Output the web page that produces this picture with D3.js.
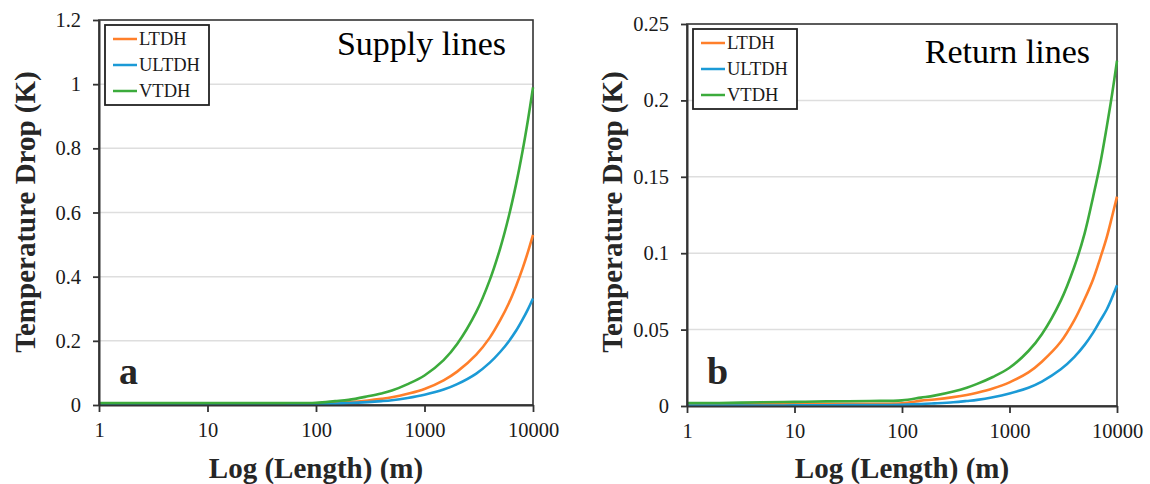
<!DOCTYPE html>
<html>
<head>
<meta charset="utf-8">
<script src="https://cdn.jsdelivr.net/npm/d3@7"></script>
<style>
  body { margin: 0; background: #fff; }
  text { font-family: "Liberation Serif", "Times New Roman", serif; }
</style>
</head>
<body>
<div id="chart"></div>
<script>
const lengths = [1, 2, 5, 10, 20, 50, 100, 150, 200, 300, 400, 500, 700, 1000, 1500, 2000, 3000, 4000, 5000, 6000, 7000, 8000, 9000, 10000];

const seriesNames = ["LTDH", "ULTDH", "VTDH"];

// supply lines (K)
const supplyLTDH = [0.003, 0.003, 0.003, 0.003, 0.003, 0.003, 0.004, 0.007, 0.009, 0.014, 0.019, 0.024, 0.035, 0.05, 0.077, 0.104, 0.157, 0.21, 0.265, 0.318, 0.372, 0.425, 0.478, 0.53];
const supplyULTDH = [0.001, 0.001, 0.001, 0.001, 0.001, 0.001, 0.002, 0.004, 0.006, 0.009, 0.012, 0.015, 0.022, 0.032, 0.048, 0.065, 0.098, 0.132, 0.166, 0.199, 0.232, 0.266, 0.299, 0.332];
const supplyVTDH = [0.006, 0.006, 0.006, 0.006, 0.006, 0.006, 0.007, 0.012, 0.016, 0.027, 0.036, 0.045, 0.065, 0.092, 0.14, 0.19, 0.29, 0.39, 0.49, 0.59, 0.69, 0.79, 0.89, 0.99];

// return lines (K)
const returnLTDH = [0.001, 0.001, 0.0011, 0.0012, 0.0013, 0.0015, 0.0018, 0.0035, 0.0043, 0.0058, 0.0072, 0.0087, 0.0115, 0.0155, 0.022, 0.029, 0.042, 0.056, 0.07, 0.083, 0.097, 0.11, 0.124, 0.137];
const returnULTDH = [0.0003, 0.0003, 0.0003, 0.0004, 0.0005, 0.0006, 0.0008, 0.0012, 0.0017, 0.0025, 0.0033, 0.004, 0.0057, 0.0082, 0.012, 0.016, 0.024, 0.032, 0.04, 0.048, 0.056, 0.063, 0.071, 0.079];
const returnVTDH = [0.002, 0.002, 0.0025, 0.0027, 0.003, 0.0033, 0.0037, 0.0055, 0.0068, 0.0095, 0.012, 0.0145, 0.019, 0.025, 0.036, 0.047, 0.069, 0.091, 0.113, 0.137, 0.159, 0.182, 0.204, 0.226];

const xTicks = [1, 10, 100, 1000, 10000];
const supplyYTicks = [0, 0.2, 0.4, 0.6, 0.8, 1, 1.2];
const returnYTicks = [0, 0.05, 0.1, 0.15, 0.2, 0.25];

const colors = ["#ff7f2a", "#1b9ad6", "#3cab3c"];
const serif = '"Liberation Serif", "Times New Roman", serif';

const svg = d3.select("#chart").append("svg")
  .attr("width", 1150).attr("height", 484);
svg.append("rect").attr("width", 1150).attr("height", 484).attr("fill", "#fff");

function drawPanel(opts) {
  const x = d3.scaleLog().domain([1, 10000]).range([opts.left, opts.right]);
  const y = d3.scaleLinear().domain([0, opts.yMax]).range([opts.bottom, opts.top]);
  const g = svg.append("g");

  // gridlines
  g.selectAll(".grid").data(opts.yTicks.filter(d => d > 0 && d < opts.yMax))
    .enter().append("line")
    .attr("x1", opts.left).attr("x2", opts.right)
    .attr("y1", d => y(d)).attr("y2", d => y(d))
    .attr("stroke", "#dedede").attr("stroke-width", 1.5);

  // frame
  g.append("rect")
    .attr("x", opts.left).attr("y", opts.top)
    .attr("width", opts.right - opts.left).attr("height", opts.bottom - opts.top)
    .attr("fill", "none").attr("stroke", "#333").attr("stroke-width", 1.6);

  // lines
  const line = d3.line()
    .x(d => x(d[0])).y(d => y(d[1]))
    .curve(d3.curveCatmullRom.alpha(0.5));
  opts.series.forEach((vals, i) => {
    g.append("path")
      .datum(lengths.map((L, j) => [L, vals[j]]))
      .attr("fill", "none")
      .attr("stroke", colors[i])
      .attr("stroke-width", 2.6)
      .attr("stroke-linejoin", "round")
      .attr("d", line);
  });

  // axes
  const xAxis = g.append("g")
    .attr("transform", `translate(0,${opts.bottom})`)
    .call(d3.axisBottom(x).tickValues(xTicks).tickFormat(d3.format("d")).tickSize(7).tickSizeOuter(0).tickPadding(10));
  const yAxis = g.append("g")
    .attr("transform", `translate(${opts.left},0)`)
    .call(d3.axisLeft(y).tickValues(opts.yTicks).tickFormat(d => String(d)).tickSize(6).tickSizeOuter(0).tickPadding(12));
  [xAxis, yAxis].forEach(a => {
    a.attr("font-family", serif);
    a.select(".domain").attr("stroke", "#333").attr("stroke-width", 2);
    a.selectAll(".tick line").attr("stroke", "#333").attr("stroke-width", 1.8);
    a.selectAll(".tick text")
      .attr("fill", "#1a1a1a")
      .style("font-family", serif)
      .style("font-size", "20.5px");
  });

  // axis titles
  g.append("text")
    .attr("x", (opts.left + opts.right) / 2).attr("y", 478)
    .attr("text-anchor", "middle")
    .attr("font-weight", "bold").attr("font-size", 29)
    .attr("fill", "#262626")
    .text("Log (Length) (m)");
  g.append("text")
    .attr("transform", `translate(${opts.yLabelX},212) rotate(-90)`)
    .attr("text-anchor", "middle")
    .attr("font-weight", "bold").attr("font-size", 29)
    .attr("fill", "#262626")
    .text("Temperature Drop (K)");

  // panel title and letter
  g.append("text")
    .attr("x", opts.right - 27).attr("y", opts.titleY)
    .attr("text-anchor", "end").attr("font-size", 34)
    .attr("fill", "#000")
    .text(opts.title);
  g.append("text")
    .attr("x", opts.left + 20).attr("y", 384)
    .attr("font-weight", "bold").attr("font-size", 38)
    .attr("fill", "#262626")
    .text(opts.letter);

  // legend
  const lg = g.append("g").attr("transform", `translate(${opts.left + 6},${opts.top + 5})`);
  lg.append("rect")
    .attr("width", 104).attr("height", 80)
    .attr("fill", "#fff").attr("stroke", "#222").attr("stroke-width", 1.8);
  seriesNames.forEach((name, i) => {
    const ly = 14 + i * 26;
    lg.append("line")
      .attr("x1", 8).attr("x2", 32).attr("y1", ly).attr("y2", ly)
      .attr("stroke", colors[i]).attr("stroke-width", 2.5);
    lg.append("text")
      .attr("x", 34).attr("y", ly + 6)
      .attr("font-size", 18.5).attr("fill", "#1a1a1a")
      .text(name);
  });
}

drawPanel({
  left: 99, right: 533, top: 20, bottom: 405, yMax: 1.2,
  yTicks: supplyYTicks, series: [supplyLTDH, supplyULTDH, supplyVTDH],
  title: "Supply lines", titleY: 55, letter: "a", yLabelX: 35
});
drawPanel({
  left: 687, right: 1117, top: 24, bottom: 406, yMax: 0.25,
  yTicks: returnYTicks, series: [returnLTDH, returnULTDH, returnVTDH],
  title: "Return lines", titleY: 63, letter: "b", yLabelX: 622
});
</script>
</body>
</html>
